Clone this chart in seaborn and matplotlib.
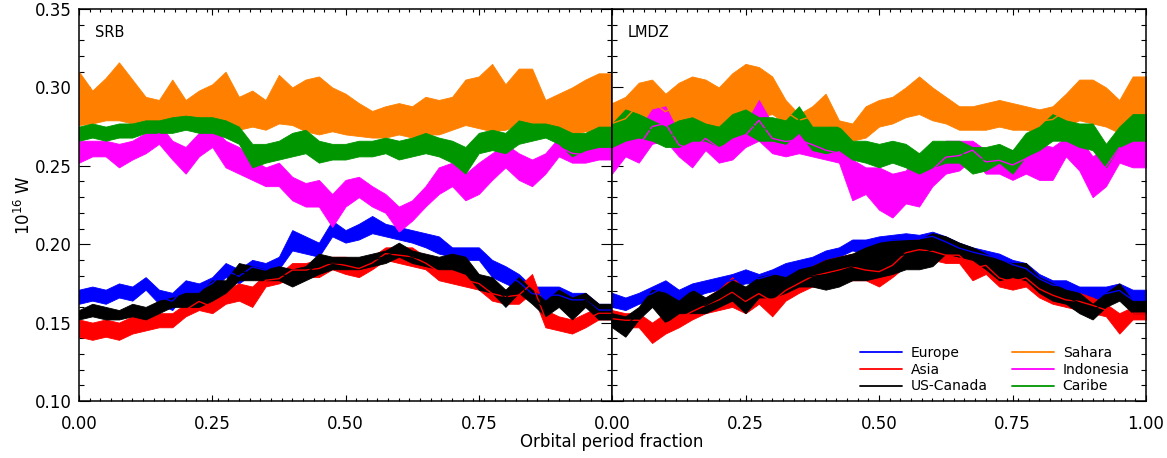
import numpy as np
import pandas as pd
import matplotlib
matplotlib.use("Agg")
import matplotlib.pyplot as plt
from matplotlib.lines import Line2D
from matplotlib.ticker import MultipleLocator, FixedLocator, FixedFormatter
import seaborn as sns

# ---------------- data ----------------
phase = np.round(np.arange(41) * 0.025, 3)   # orbital period fraction

regions = ["Europe", "Asia", "US-Canada", "Sahara", "Indonesia", "Caribe"]
colors = ["#0000ff", "#ff0000", "#000000", "#ff8000", "#ff00ff", "#009600"]

# SRB panel: upper / lower envelope of each noisy series (10^16 W)
srb_sahara_hi = [0.310, 0.298, 0.306, 0.316, 0.305, 0.294, 0.292, 0.305, 0.292, 0.298, 0.302, 0.310, 0.294, 0.298,
                 0.292, 0.308, 0.300, 0.305, 0.307, 0.300, 0.296, 0.290, 0.285, 0.288, 0.290, 0.288, 0.294, 0.292,
                 0.294, 0.305, 0.307, 0.315, 0.302, 0.312, 0.312, 0.292, 0.296, 0.300, 0.305, 0.309, 0.309]
srb_sahara_lo = [0.276, 0.277, 0.279, 0.279, 0.277, 0.276, 0.278, 0.276, 0.275, 0.276, 0.274, 0.276, 0.273, 0.275,
                 0.273, 0.277, 0.276, 0.272, 0.270, 0.272, 0.270, 0.269, 0.268, 0.268, 0.270, 0.268, 0.270, 0.270,
                 0.273, 0.276, 0.274, 0.272, 0.273, 0.276, 0.276, 0.274, 0.272, 0.270, 0.272, 0.270, 0.275]
srb_caribe_hi = [0.275, 0.277, 0.275, 0.277, 0.277, 0.279, 0.279, 0.281, 0.282, 0.281, 0.281, 0.279, 0.275, 0.264,
                 0.264, 0.266, 0.271, 0.273, 0.266, 0.264, 0.264, 0.266, 0.266, 0.268, 0.266, 0.268, 0.271, 0.268,
                 0.266, 0.262, 0.271, 0.273, 0.271, 0.279, 0.277, 0.277, 0.275, 0.271, 0.271, 0.275, 0.275]
srb_caribe_lo = [0.266, 0.268, 0.266, 0.268, 0.268, 0.271, 0.271, 0.271, 0.273, 0.271, 0.271, 0.268, 0.264, 0.249,
                 0.252, 0.254, 0.256, 0.258, 0.252, 0.254, 0.254, 0.256, 0.256, 0.258, 0.254, 0.256, 0.258, 0.256,
                 0.252, 0.245, 0.258, 0.260, 0.258, 0.264, 0.266, 0.268, 0.264, 0.256, 0.260, 0.262, 0.262]
srb_indon_hi = [0.266, 0.266, 0.266, 0.264, 0.266, 0.271, 0.277, 0.266, 0.262, 0.271, 0.275, 0.266, 0.262, 0.254,
                0.249, 0.252, 0.243, 0.239, 0.241, 0.232, 0.241, 0.243, 0.237, 0.232, 0.224, 0.228, 0.237, 0.249,
                0.252, 0.245, 0.252, 0.258, 0.264, 0.258, 0.254, 0.258, 0.268, 0.264, 0.262, 0.266, 0.266]
srb_indon_lo = [0.252, 0.256, 0.256, 0.249, 0.254, 0.258, 0.264, 0.254, 0.245, 0.256, 0.262, 0.249, 0.245, 0.241,
                0.237, 0.237, 0.228, 0.224, 0.224, 0.211, 0.224, 0.230, 0.224, 0.220, 0.208, 0.215, 0.224, 0.232,
                0.237, 0.228, 0.232, 0.241, 0.249, 0.241, 0.237, 0.245, 0.256, 0.252, 0.252, 0.254, 0.254]
srb_europe_hi = [0.171, 0.173, 0.171, 0.175, 0.173, 0.179, 0.171, 0.169, 0.177, 0.175, 0.179, 0.188, 0.184, 0.190,
                 0.188, 0.192, 0.209, 0.205, 0.201, 0.215, 0.209, 0.213, 0.218, 0.213, 0.211, 0.209, 0.207, 0.205,
                 0.198, 0.198, 0.198, 0.190, 0.186, 0.181, 0.173, 0.173, 0.173, 0.169, 0.169, 0.162, 0.162]
srb_europe_lo = [0.162, 0.164, 0.162, 0.166, 0.164, 0.171, 0.162, 0.158, 0.169, 0.166, 0.171, 0.179, 0.175, 0.181,
                 0.179, 0.184, 0.196, 0.194, 0.192, 0.205, 0.201, 0.203, 0.207, 0.205, 0.203, 0.201, 0.198, 0.194,
                 0.192, 0.190, 0.190, 0.179, 0.175, 0.171, 0.164, 0.162, 0.162, 0.160, 0.160, 0.154, 0.154]
srb_asia_hi = [0.152, 0.150, 0.152, 0.150, 0.154, 0.154, 0.156, 0.156, 0.162, 0.169, 0.164, 0.171, 0.175, 0.173,
               0.181, 0.181, 0.188, 0.188, 0.190, 0.192, 0.192, 0.190, 0.192, 0.198, 0.198, 0.198, 0.192, 0.188,
               0.184, 0.181, 0.179, 0.173, 0.171, 0.173, 0.181, 0.158, 0.154, 0.152, 0.156, 0.160, 0.160]
srb_asia_lo = [0.141, 0.139, 0.141, 0.139, 0.143, 0.145, 0.147, 0.147, 0.154, 0.158, 0.156, 0.162, 0.164, 0.160,
               0.173, 0.175, 0.179, 0.179, 0.179, 0.184, 0.181, 0.179, 0.184, 0.190, 0.188, 0.186, 0.184, 0.177,
               0.175, 0.173, 0.171, 0.164, 0.162, 0.162, 0.169, 0.147, 0.145, 0.143, 0.147, 0.152, 0.152]
srb_usca_hi = [0.158, 0.162, 0.160, 0.158, 0.162, 0.160, 0.164, 0.166, 0.169, 0.169, 0.177, 0.177, 0.188, 0.186,
               0.184, 0.186, 0.184, 0.186, 0.194, 0.192, 0.192, 0.192, 0.194, 0.196, 0.201, 0.196, 0.194, 0.192,
               0.194, 0.192, 0.181, 0.179, 0.171, 0.179, 0.171, 0.164, 0.171, 0.166, 0.169, 0.162, 0.162]
srb_usca_lo = [0.152, 0.154, 0.152, 0.152, 0.154, 0.152, 0.156, 0.160, 0.160, 0.160, 0.164, 0.169, 0.177, 0.177,
               0.177, 0.177, 0.173, 0.177, 0.181, 0.184, 0.184, 0.184, 0.186, 0.188, 0.192, 0.188, 0.186, 0.184,
               0.184, 0.181, 0.171, 0.169, 0.160, 0.169, 0.162, 0.154, 0.160, 0.152, 0.160, 0.152, 0.152]

# LMDZ panel
lmdz_sahara_hi = [0.290, 0.294, 0.303, 0.305, 0.296, 0.303, 0.307, 0.305, 0.300, 0.309, 0.315, 0.313, 0.307, 0.292,
                  0.283, 0.288, 0.296, 0.279, 0.277, 0.288, 0.292, 0.294, 0.300, 0.307, 0.300, 0.294, 0.288, 0.288,
                  0.290, 0.292, 0.290, 0.288, 0.286, 0.288, 0.296, 0.305, 0.305, 0.300, 0.292, 0.307, 0.307]
lmdz_sahara_lo = [0.264, 0.266, 0.275, 0.277, 0.273, 0.275, 0.277, 0.275, 0.275, 0.277, 0.279, 0.281, 0.283, 0.277,
                  0.275, 0.275, 0.275, 0.271, 0.266, 0.268, 0.275, 0.277, 0.281, 0.283, 0.279, 0.277, 0.273, 0.273,
                  0.273, 0.275, 0.273, 0.273, 0.271, 0.271, 0.275, 0.279, 0.277, 0.275, 0.271, 0.273, 0.273]
lmdz_caribe_hi = [0.277, 0.286, 0.283, 0.279, 0.275, 0.279, 0.281, 0.277, 0.275, 0.283, 0.286, 0.281, 0.281, 0.279,
                  0.288, 0.275, 0.275, 0.275, 0.266, 0.266, 0.264, 0.266, 0.264, 0.258, 0.266, 0.266, 0.266, 0.262,
                  0.262, 0.264, 0.260, 0.271, 0.275, 0.283, 0.279, 0.277, 0.277, 0.264, 0.275, 0.283, 0.283]
lmdz_caribe_lo = [0.262, 0.266, 0.268, 0.266, 0.262, 0.262, 0.266, 0.266, 0.262, 0.268, 0.271, 0.266, 0.266, 0.264,
                  0.271, 0.260, 0.258, 0.260, 0.254, 0.252, 0.249, 0.252, 0.249, 0.245, 0.249, 0.252, 0.252, 0.245,
                  0.247, 0.252, 0.245, 0.256, 0.260, 0.266, 0.266, 0.262, 0.260, 0.249, 0.262, 0.266, 0.266]
lmdz_indon_hi = [0.266, 0.266, 0.273, 0.286, 0.288, 0.271, 0.271, 0.275, 0.271, 0.275, 0.277, 0.292, 0.277, 0.275,
                 0.275, 0.271, 0.266, 0.264, 0.254, 0.249, 0.249, 0.245, 0.247, 0.258, 0.258, 0.266, 0.266, 0.266,
                 0.260, 0.262, 0.260, 0.264, 0.264, 0.262, 0.268, 0.268, 0.256, 0.262, 0.271, 0.266, 0.266]
lmdz_indon_lo = [0.245, 0.256, 0.252, 0.264, 0.266, 0.256, 0.249, 0.260, 0.252, 0.254, 0.262, 0.266, 0.258, 0.256,
                 0.258, 0.256, 0.254, 0.252, 0.228, 0.232, 0.222, 0.217, 0.226, 0.224, 0.237, 0.245, 0.247, 0.254,
                 0.245, 0.245, 0.241, 0.245, 0.241, 0.241, 0.256, 0.247, 0.230, 0.237, 0.252, 0.249, 0.249]
lmdz_europe_hi = [0.169, 0.166, 0.169, 0.173, 0.177, 0.171, 0.175, 0.177, 0.179, 0.181, 0.184, 0.181, 0.184, 0.188,
                  0.190, 0.192, 0.196, 0.198, 0.203, 0.203, 0.205, 0.206, 0.207, 0.206, 0.208, 0.205, 0.201, 0.198,
                  0.196, 0.194, 0.190, 0.188, 0.181, 0.177, 0.177, 0.173, 0.173, 0.173, 0.175, 0.171, 0.171]
lmdz_europe_lo = [0.160, 0.158, 0.162, 0.164, 0.169, 0.162, 0.166, 0.169, 0.171, 0.173, 0.175, 0.175, 0.177, 0.179,
                  0.181, 0.186, 0.190, 0.192, 0.196, 0.194, 0.198, 0.199, 0.199, 0.201, 0.202, 0.198, 0.194, 0.192,
                  0.190, 0.188, 0.184, 0.181, 0.175, 0.171, 0.169, 0.166, 0.164, 0.164, 0.166, 0.158, 0.158]
lmdz_asia_hi = [0.158, 0.156, 0.156, 0.150, 0.156, 0.158, 0.162, 0.166, 0.171, 0.179, 0.171, 0.175, 0.173, 0.177,
                0.181, 0.186, 0.190, 0.192, 0.194, 0.190, 0.192, 0.194, 0.203, 0.203, 0.201, 0.198, 0.198, 0.192,
                0.192, 0.184, 0.181, 0.184, 0.177, 0.173, 0.169, 0.169, 0.166, 0.162, 0.156, 0.160, 0.160]
lmdz_asia_lo = [0.147, 0.147, 0.147, 0.137, 0.143, 0.147, 0.152, 0.156, 0.158, 0.160, 0.156, 0.162, 0.154, 0.164,
                0.169, 0.173, 0.173, 0.175, 0.177, 0.177, 0.173, 0.179, 0.186, 0.190, 0.190, 0.188, 0.188, 0.177,
                0.181, 0.173, 0.171, 0.173, 0.166, 0.162, 0.160, 0.158, 0.156, 0.154, 0.143, 0.152, 0.152]
lmdz_usca_hi = [0.156, 0.154, 0.160, 0.171, 0.169, 0.164, 0.171, 0.166, 0.171, 0.177, 0.173, 0.179, 0.181, 0.179,
                0.184, 0.186, 0.190, 0.192, 0.194, 0.198, 0.201, 0.203, 0.203, 0.203, 0.207, 0.205, 0.201, 0.198,
                0.194, 0.190, 0.188, 0.188, 0.179, 0.175, 0.171, 0.169, 0.162, 0.169, 0.175, 0.164, 0.164]
lmdz_usca_lo = [0.147, 0.141, 0.152, 0.160, 0.150, 0.156, 0.156, 0.156, 0.160, 0.164, 0.156, 0.166, 0.166, 0.169,
                0.173, 0.173, 0.171, 0.173, 0.177, 0.177, 0.179, 0.181, 0.184, 0.184, 0.186, 0.194, 0.192, 0.190,
                0.184, 0.177, 0.179, 0.177, 0.169, 0.164, 0.162, 0.156, 0.152, 0.160, 0.164, 0.156, 0.156]

panels = {
    "SRB": {
        "Europe": (srb_europe_lo, srb_europe_hi), "Asia": (srb_asia_lo, srb_asia_hi),
        "US-Canada": (srb_usca_lo, srb_usca_hi), "Sahara": (srb_sahara_lo, srb_sahara_hi),
        "Indonesia": (srb_indon_lo, srb_indon_hi), "Caribe": (srb_caribe_lo, srb_caribe_hi),
    },
    "LMDZ": {
        "Europe": (lmdz_europe_lo, lmdz_europe_hi), "Asia": (lmdz_asia_lo, lmdz_asia_hi),
        "US-Canada": (lmdz_usca_lo, lmdz_usca_hi), "Sahara": (lmdz_sahara_lo, lmdz_sahara_hi),
        "Indonesia": (lmdz_indon_lo, lmdz_indon_hi), "Caribe": (lmdz_caribe_lo, lmdz_caribe_hi),
    },
}

x_ticks = [0.0, 0.25, 0.5, 0.75, 1.0]
y_ticks = [0.10, 0.15, 0.20, 0.25, 0.30, 0.35]

# ---------------- styling ----------------
sns.set_style("ticks")
plt.rcParams["font.family"] = ["DejaVu Sans"]
plt.rcParams["axes.linewidth"] = 1.1
plt.rcParams["text.color"] = "black"
plt.rcParams["axes.labelcolor"] = "black"
plt.rcParams["xtick.color"] = "black"
plt.rcParams["ytick.color"] = "black"

W, H = 1167, 458
fig = plt.figure(figsize=(W / 100, H / 100), dpi=100)
ax_l = fig.add_axes([79 / W, (H - 401) / H, 533 / W, 392 / H])
ax_r = fig.add_axes([612 / W, (H - 401) / H, 534 / W, 392 / H])

palette = dict(zip(regions, colors))

for ax, (name, series) in zip([ax_l, ax_r], panels.items()):
    rows = []
    for reg in regions:
        lo, hi = series[reg]
        for xv, a, b in zip(phase, lo, hi):
            rows.append((xv, a, reg))
            rows.append((xv, b, reg))
    df = pd.DataFrame(rows, columns=["phase", "value", "region"])
    sns.lineplot(data=df, x="phase", y="value", hue="region", hue_order=regions,
                 palette=palette, estimator="mean", errorbar=("pi", 100),
                 err_kws={"alpha": 1.0, "linewidth": 0.6}, linewidth=1.0,
                 legend=False, ax=ax)
    ax.set_xlim(0, 1)
    ax.set_ylim(0.10, 0.35)
    ax.set_xlabel("")
    ax.set_ylabel("")
    ax.xaxis.set_major_locator(FixedLocator(x_ticks))
    ax.xaxis.set_minor_locator(MultipleLocator(0.02))
    ax.yaxis.set_major_locator(FixedLocator(y_ticks))
    ax.yaxis.set_minor_locator(MultipleLocator(0.01))
    ax.tick_params(which="both", direction="in", top=True, right=True, width=0.8, colors="black")
    ax.tick_params(axis="x", which="major", length=4.5, pad=10, labelsize=12)
    ax.tick_params(axis="x", which="minor", length=2.5)
    ax.tick_params(axis="y", which="major", length=8, pad=5, labelsize=12)
    ax.tick_params(axis="y", which="minor", length=3.8)
    for sp in ax.spines.values():
        sp.set_visible(True)
        sp.set_linewidth(1.1)
        sp.set_color("black")
    ax.text(0.03, 0.941, name, transform=ax.transAxes, fontsize=10.5, va="center", ha="left",
            color="black")

ax_l.xaxis.set_major_formatter(FixedFormatter(["0.00", "0.25", "0.50", "0.75", ""]))
ax_l.yaxis.set_major_formatter(FixedFormatter([f"{v:.2f}" for v in y_ticks]))
ax_r.xaxis.set_major_formatter(FixedFormatter([f"{v:.2f}" for v in x_ticks]))
ax_r.tick_params(axis="y", labelleft=False)

ax_l.set_ylabel("10$^{16}$ W", fontsize=12, labelpad=1, color="black")
fig.text(612 / W, 1 - 442 / H, "Orbital period fraction", ha="center", va="center", fontsize=12,
         color="black")

handles = [Line2D([0], [0], color=c, lw=1.3) for c in colors]
leg = ax_r.legend(handles, regions, ncol=2, frameon=False, fontsize=10,
                  loc="lower right", bbox_to_anchor=(0.985, -0.002),
                  handlelength=3.0, handletextpad=0.65, columnspacing=1.75,
                  labelspacing=0.2, borderaxespad=0.2)
for t in leg.get_texts():
    t.set_color("black")

fig.savefig("out.png", dpi=100)
